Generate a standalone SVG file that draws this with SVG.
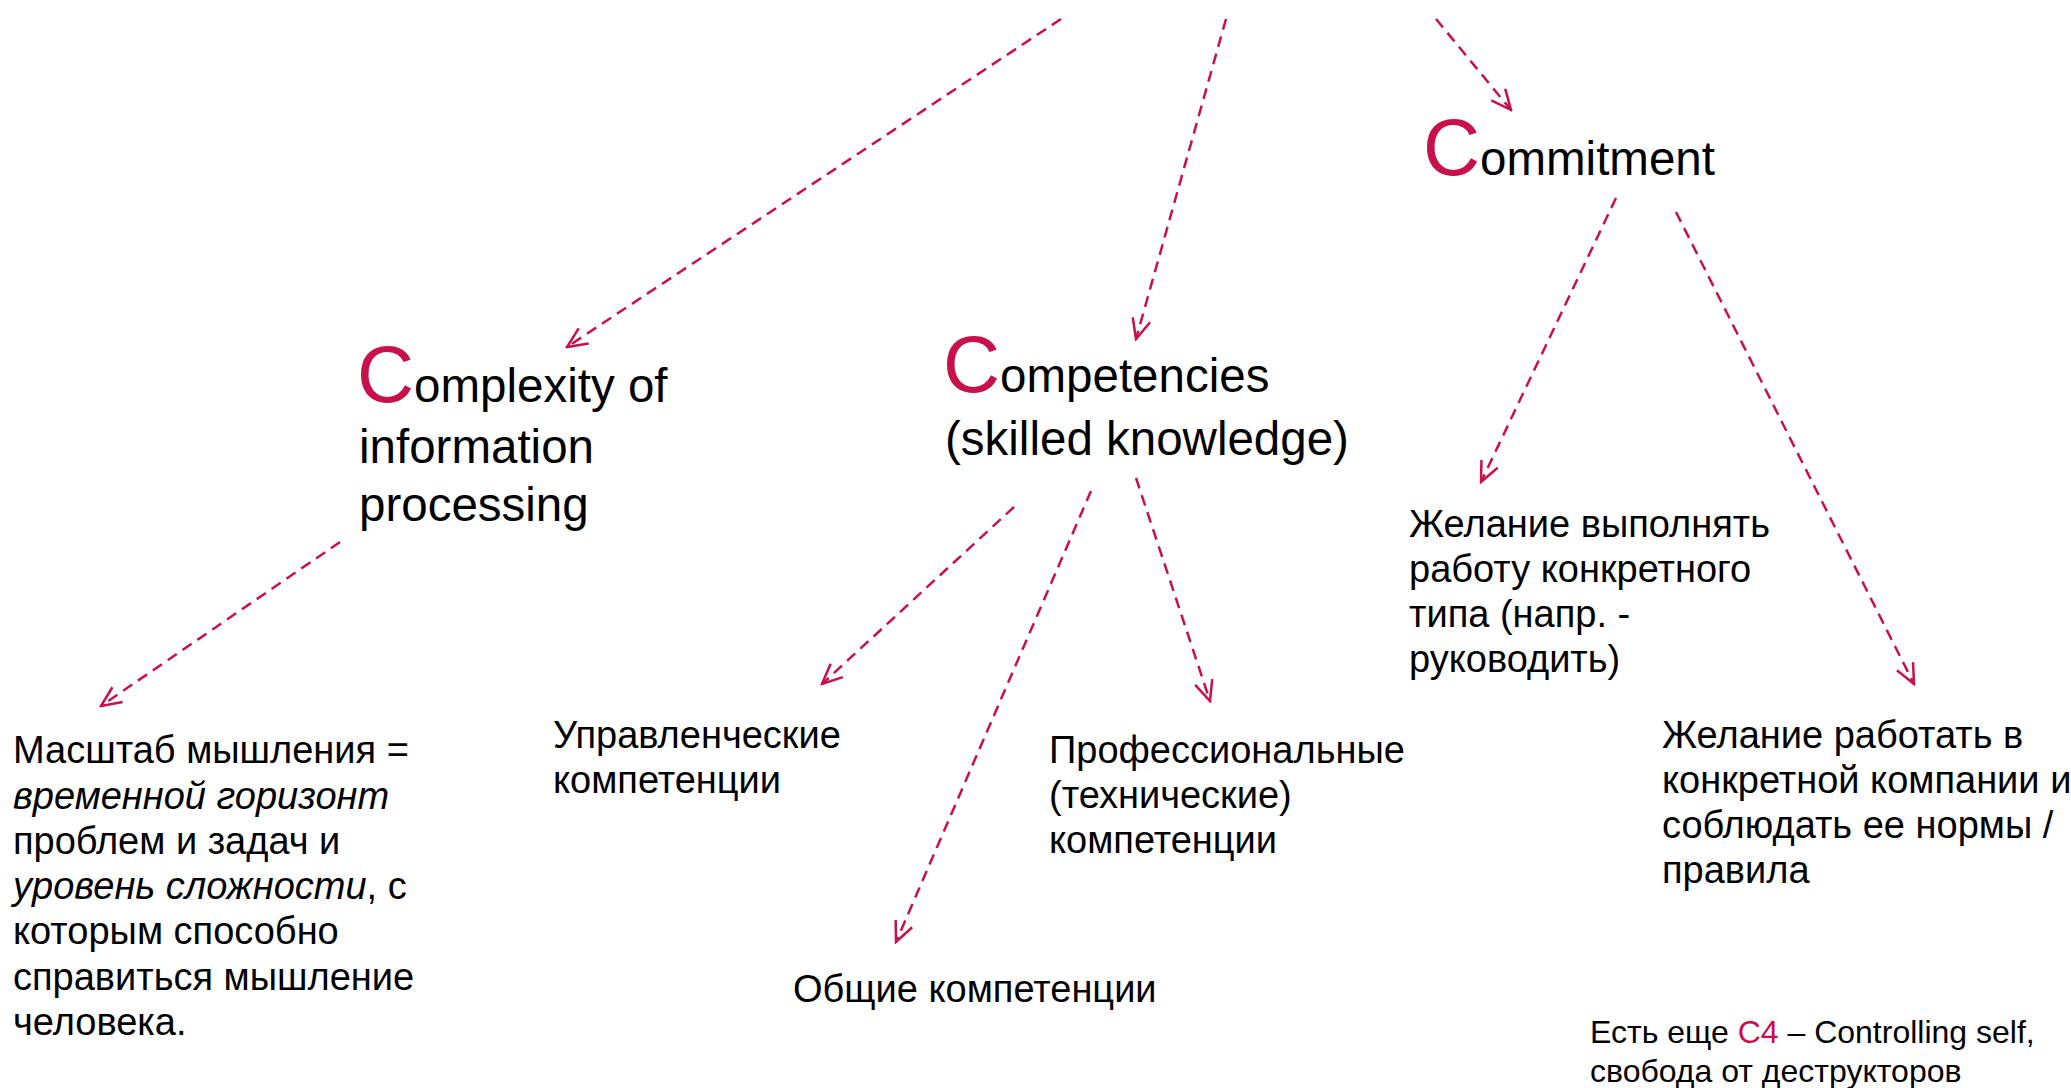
<svg xmlns="http://www.w3.org/2000/svg" width="2071" height="1088" viewBox="0 0 2071 1088">
<style>
text{font-family:"Liberation Sans",Arial,sans-serif;fill:#000}
.t{font-size:47.5px}
.big{font-size:79px;fill:#C8104A}
.d{font-size:38px}
.f{font-size:32px}
.r{fill:#C8104A}
.c{stroke:#C8104A;stroke-width:2.5;fill:none;stroke-dasharray:11 7}
</style>
<defs>
<marker id="ah" markerUnits="userSpaceOnUse" markerWidth="24" markerHeight="24" viewBox="0 0 24 24" refX="22" refY="12" orient="auto">
<path d="M2,3 L22,12 L2,21" fill="none" stroke="#C8104A" stroke-width="2.5"/>
</marker>
</defs>
<rect width="2071" height="1088" fill="#fff"/>
<g id="connectors">
<line class="c" x1="1061" y1="19" x2="567" y2="347" marker-end="url(#ah)"/>
<line class="c" x1="1226" y1="19" x2="1136" y2="339" marker-end="url(#ah)"/>
<line class="c" x1="1436" y1="19" x2="1511" y2="110" marker-end="url(#ah)"/>
<line class="c" x1="1616" y1="198" x2="1481" y2="482" marker-end="url(#ah)"/>
<line class="c" x1="1676" y1="212" x2="1914" y2="684" marker-end="url(#ah)"/>
<line class="c" x1="340" y1="542" x2="101" y2="706" marker-end="url(#ah)"/>
<line class="c" x1="1014" y1="507" x2="822" y2="684" marker-end="url(#ah)"/>
<line class="c" x1="1091" y1="491" x2="896" y2="942" marker-end="url(#ah)"/>
<line class="c" x1="1136" y1="478" x2="1210" y2="701" marker-end="url(#ah)"/>
</g>
<g id="complexity">
<text x="357" y="402"><tspan class="big">C</tspan><tspan class="t">omplexity of</tspan></text>
<text class="t" x="359" y="463">information</text>
<text class="t" x="359" y="521">processing</text>
</g>
<g id="competencies">
<text x="943" y="392"><tspan class="big">C</tspan><tspan class="t">ompetencies</tspan></text>
<text class="t" x="945" y="455">(skilled knowledge)</text>
</g>
<g id="commitment">
<text x="1423" y="175"><tspan class="big">C</tspan><tspan class="t">ommitment</tspan></text>
</g>
<g id="mashtab">
<text class="d" x="13" y="763">Масштаб мышления =</text>
<text class="d" x="13" y="809" font-style="italic">временной горизонт</text>
<text class="d" x="13" y="854">проблем и задач и</text>
<text class="d" x="13" y="899"><tspan font-style="italic">уровень сложности</tspan>, с</text>
<text class="d" x="13" y="944">которым способно</text>
<text class="d" x="13" y="990">справиться мышление</text>
<text class="d" x="13" y="1035">человека.</text>
</g>
<g id="upravl">
<text class="d" x="553" y="748">Управленческие</text>
<text class="d" x="553" y="793">компетенции</text>
</g>
<g id="obshchie">
<text class="d" x="793" y="1002">Общие компетенции</text>
</g>
<g id="prof">
<text class="d" x="1049" y="763">Профессиональные</text>
<text class="d" x="1049" y="808">(технические)</text>
<text class="d" x="1049" y="853">компетенции</text>
</g>
<g id="zhel1">
<text class="d" x="1409" y="537">Желание выполнять</text>
<text class="d" x="1409" y="582">работу конкретного</text>
<text class="d" x="1409" y="627">типа (напр. -</text>
<text class="d" x="1409" y="672">руководить)</text>
</g>
<g id="zhel2">
<text class="d" x="1662" y="748">Желание работать в</text>
<text class="d" x="1662" y="793">конкретной компании и</text>
<text class="d" x="1662" y="838">соблюдать ее нормы /</text>
<text class="d" x="1662" y="883">правила</text>
</g>
<g id="note">
<text class="f" x="1590" y="1043">Есть еще <tspan class="r">C4</tspan> – Controlling self,</text>
<text class="f" x="1590" y="1082">свобода от деструкторов</text>
</g>
</svg>
